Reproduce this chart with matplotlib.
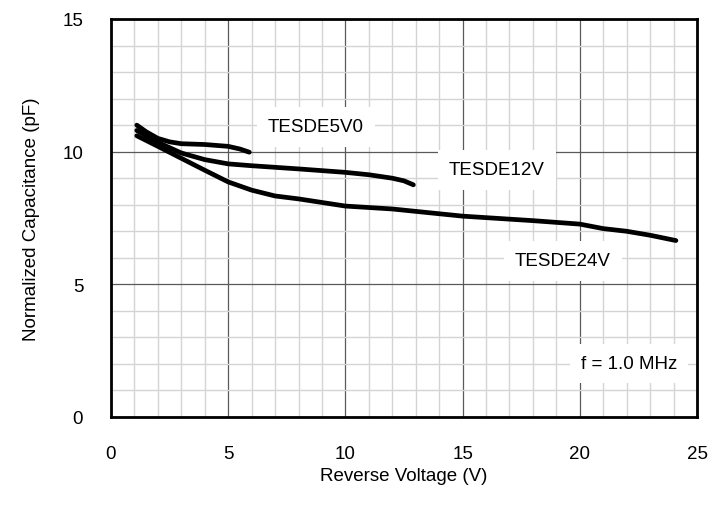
import matplotlib
matplotlib.use("Agg")
import matplotlib.pyplot as plt
import numpy as np

plt.rcParams['font.family'] = ['Liberation Sans', 'DejaVu Sans']

v_5v0 = [1.1, 1.5, 2.0, 2.5, 3.0, 4.0, 5.0, 5.5, 5.9]
c_5v0 = [11.0, 10.75, 10.5, 10.37, 10.3, 10.27, 10.2, 10.1, 9.98]

v_12v = [1.1, 2.0, 3.0, 4.0, 5.0, 6.0, 8.0, 10.0, 11.0, 12.0, 12.5, 12.9]
c_12v = [10.8, 10.35, 9.95, 9.7, 9.54, 9.47, 9.35, 9.22, 9.13, 9.0, 8.9, 8.75]

v_24v = [1.1, 2.0, 3.0, 4.0, 5.0, 6.0, 7.0, 8.0, 10.0, 12.0, 15.0, 18.0, 20.0, 21.0, 22.0, 23.0, 24.1]
c_24v = [10.6, 10.2, 9.75, 9.3, 8.86, 8.55, 8.33, 8.22, 7.95, 7.84, 7.57, 7.4, 7.27, 7.1, 7.0, 6.85, 6.65]

labels = ["TESDE5V0", "TESDE12V", "TESDE24V"]

fs = 13.5
fig = plt.figure(figsize=(7.22, 5.10), dpi=100)
ax = fig.add_axes([111/722, 1-418/510, 586/722, 398/510])

ax.set_xlim(0, 25)
ax.set_ylim(0, 15)
ax.set_xticks([0, 5, 10, 15, 20, 25])
ax.set_yticks([0, 5, 10, 15])
ax.set_xticks(np.arange(0, 26, 1), minor=True)
ax.set_yticks(np.arange(0, 16, 1), minor=True)
ax.grid(which='minor', color='#d4d4d4', linewidth=1.0, zorder=0)
ax.grid(which='major', color='#5a5a5a', linewidth=0.9, zorder=0)
ax.set_axisbelow(True)
ax.tick_params(which='both', length=0, labelsize=fs, colors='black')
ax.tick_params(axis='x', pad=20)
ax.tick_params(axis='y', pad=20)
for s in ax.spines.values():
    s.set_linewidth(2.0)
    s.set_color('black')

for v, c in [(v_5v0, c_5v0), (v_12v, c_12v), (v_24v, c_24v)]:
    ax.plot(v, c, color='black', linewidth=3.4, solid_capstyle='round', zorder=3)

bb = dict(facecolor='white', edgecolor='none', pad=8)
ax.text(8.75, 10.93, labels[0], fontsize=fs, ha='center', va='center', bbox=bb, zorder=4)
ax.text(16.47, 9.31, labels[1], fontsize=fs, ha='center', va='center', bbox=bb, zorder=4)
ax.text(19.28, 5.88, labels[2], fontsize=fs, ha='center', va='center', bbox=bb, zorder=4)
ax.text(22.1, 2.0, "f = 1.0 MHz", fontsize=fs, ha='center', va='center', bbox=bb, zorder=4)

ax.set_xlabel("Reverse Voltage (V)", fontsize=fs, labelpad=4)
ax.set_ylabel("Normalized Capacitance (pF)", fontsize=fs, labelpad=16)

fig.savefig("out.png", dpi=100)
